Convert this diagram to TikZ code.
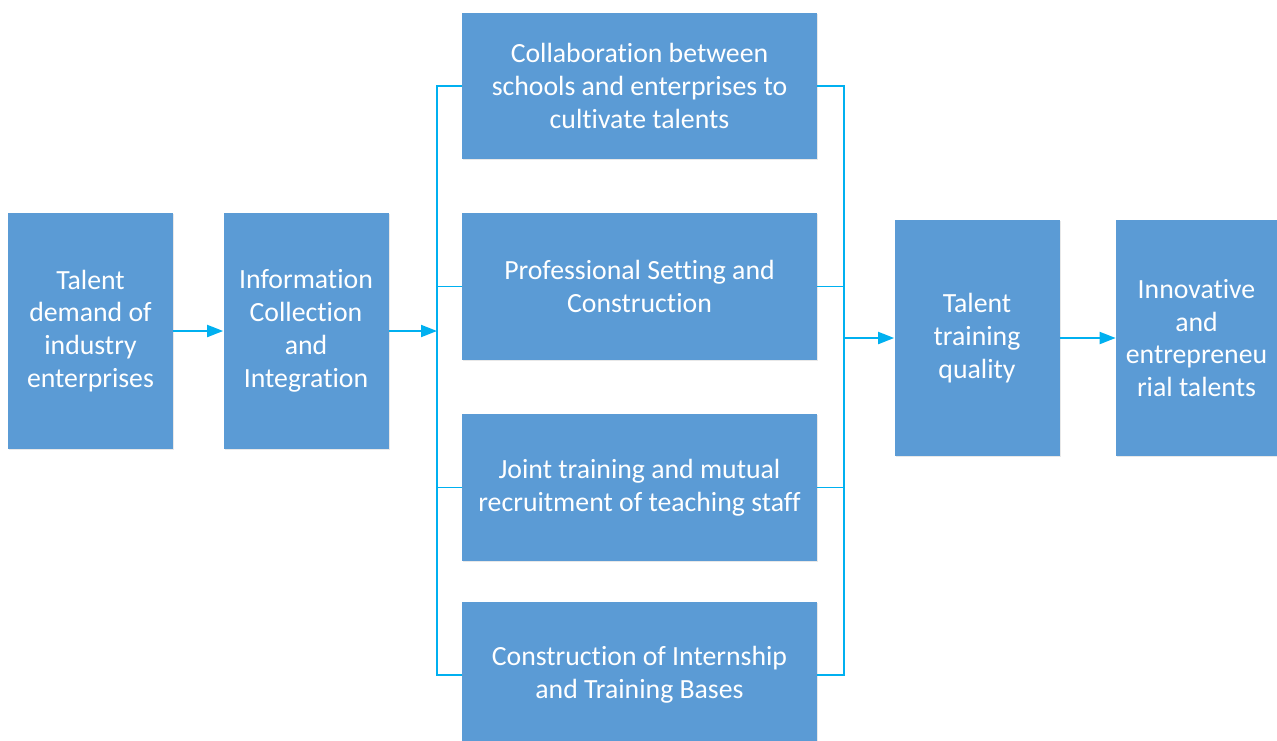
\documentclass[tikz,border=0pt]{standalone}
\usepackage{fontspec}
\setmainfont{Carlito}[Ligatures=NoCommon]
\usetikzlibrary{arrows.meta,shadows}

\definecolor{boxblue}{HTML}{5B9BD5}
\definecolor{linkblue}{HTML}{00B0F0}

\tikzset{
  box/.style={rectangle,fill=boxblue,text=white,align=center,inner sep=2pt,
    font=\fontsize{15.8pt}{18.7pt}\selectfont,
    drop shadow={opacity=0.18,shadow xshift=0.6pt,shadow yshift=-0.6pt}},
  tallbox/.style={box,minimum width=3.3cm,minimum height=4.72cm},
  widebox/.style={box,minimum width=7.1cm,minimum height=2.93cm},
  link/.style={linkblue,line width=1.1pt},
  arr/.style={link,-{Triangle[length=3.2mm,width=2.4mm]}}
}

\begin{document}
\begin{tikzpicture}
    \useasboundingbox[fill=white] (0,0) rectangle (25.54,-14.8);

    \node[tallbox] (demand)  at (1.81,-6.62)  {Talent\\demand of\\industry\\enterprises};
    \node[tallbox] (info)    at (6.12,-6.62)  {Information\\Collection\\and\\Integration};

    \node[widebox] (coop)    at (12.79,-1.72) {Collaboration between\\schools and enterprises to\\cultivate talents};
    \node[widebox] (major)   at (12.79,-5.73) {Professional Setting and\\Construction};
    \node[widebox] (staff)   at (12.79,-9.75) {Joint training and mutual\\recruitment of teaching staff};
    \node[widebox] (base)    at (12.79,-13.5) {Construction of Internship\\and Training Bases};

    \node[tallbox] (quality) at (19.54,-6.76) {Talent\\training\\quality};
    \node[tallbox,minimum width=3.22cm] (talent) at (23.93,-6.76) {Innovative\\and\\entrepreneu\\rial talents};

    \coordinate (lbus) at (8.74,0);
    \coordinate (rbus) at (16.88,0);

    \draw[arr] (demand) -- (info);
    \draw[arr] (info) -- (info -| lbus);

    \draw[link] (coop.west) -- (coop.west -| lbus) -- (base.west -| lbus) -- (base.west);
    \draw[link] (major.west) -- (major.west -| lbus);
    \draw[link] (staff.west) -- (staff.west -| lbus);

    \draw[link] (coop.east) -- (coop.east -| rbus) -- (base.east -| rbus) -- (base.east);
    \draw[link] (major.east) -- (major.east -| rbus);
    \draw[link] (staff.east) -- (staff.east -| rbus);

    \draw[arr] (quality -| rbus) -- (quality);
    \draw[arr] (quality) -- (talent);
\end{tikzpicture}
\end{document}
